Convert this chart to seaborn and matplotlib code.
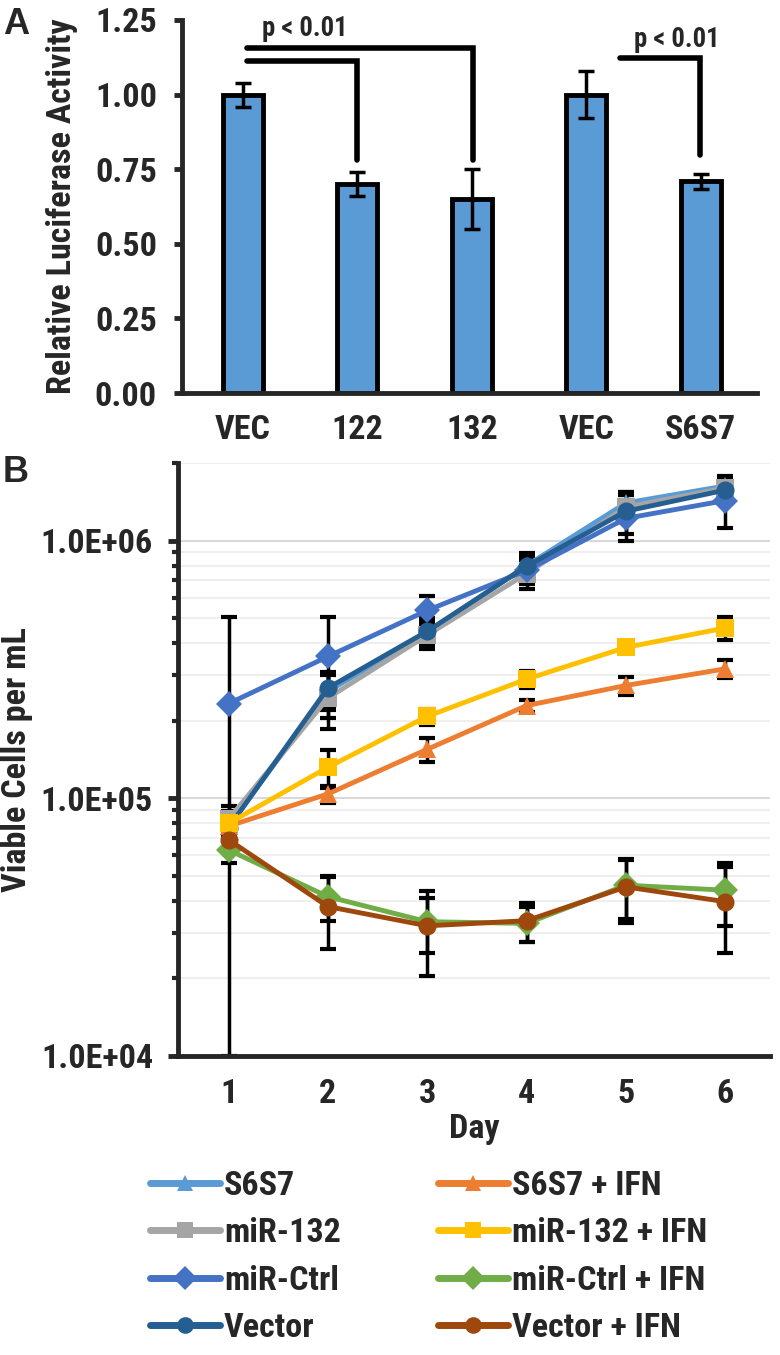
import numpy as np
import pandas as pd
import matplotlib
matplotlib.use("Agg")
import matplotlib.pyplot as plt
from matplotlib.lines import Line2D
from matplotlib.ticker import LogLocator, FuncFormatter, NullFormatter, FixedLocator
from matplotlib import font_manager
import seaborn as sns

# ---------------- Panel A data ----------------
bar_labels = ["VEC", "122", "132", "VEC", "S6S7"]
bar_values = [1.00, 0.70, 0.65, 1.00, 0.71]
bar_errors = [0.04, 0.04, 0.10, 0.08, 0.025]
yticks_a = [0.00, 0.25, 0.50, 0.75, 1.00, 1.25]
sig_text = "p < 0.01"

# ---------------- Panel B data ----------------
days = [1, 2, 3, 4, 5, 6]
series_names = ["S6S7", "miR-132", "miR-Ctrl", "Vector",
                "S6S7 + IFN", "miR-132 + IFN", "miR-Ctrl + IFN", "Vector + IFN"]
s6s7 = [7.8e4, 2.60e5, 4.40e5, 8.00e5, 1.40e6, 1.63e6]
mir132 = [8.3e4, 2.45e5, 4.30e5, 7.45e5, 1.35e6, 1.60e6]
mirctrl = [2.33e5, 3.55e5, 5.36e5, 7.66e5, 1.22e6, 1.43e6]
vector = [7.7e4, 2.68e5, 4.45e5, 7.95e5, 1.30e6, 1.57e6]
s6s7_ifn = [7.8e4, 1.04e5, 1.55e5, 2.29e5, 2.74e5, 3.18e5]
mir132_ifn = [8.0e4, 1.32e5, 2.08e5, 2.90e5, 3.85e5, 4.58e5]
mirctrl_ifn = [6.3e4, 4.15e4, 3.32e4, 3.27e4, 4.60e4, 4.40e4]
vector_ifn = [6.9e4, 3.80e4, 3.20e4, 3.35e4, 4.53e4, 3.97e4]

s6s7_err = [1.0e4, 4.0e4, 5.0e4, 8.0e4, 1.5e5, 1.5e5]
mir132_err = [1.0e4, 6.0e4, 5.0e4, 9.5e4, 1.5e5, 1.5e5]
mirctrl_err = [2.7e5, 1.5e5, 7.6e4, 9.0e4, 2.2e5, 3.1e5]
vector_err = [1.2e4, 4.0e4, 5.5e4, 1.0e5, 2.4e5, 1.6e5]
s6s7_ifn_err = [5.0e3, 8.0e3, 1.7e4, 1.2e4, 2.2e4, 2.5e4]
mir132_ifn_err = [5.0e3, 2.2e4, 1.5e4, 2.3e4, 1.5e4, 4.5e4]
mirctrl_ifn_err = [7.0e3, 8.0e3, 8.0e3, 5.0e3, 1.2e4, 1.2e4]
vector_ifn_err = [6.0e3, 1.2e4, 1.15e4, 5.8e3, 1.25e4, 1.45e4]

ytick_b = [1e4, 1e5, 1e6]

colors = ["#5B9BD5", "#A5A5A5", "#4472C4", "#255E91",
          "#ED7D31", "#FFC000", "#70AD47", "#9E480E"]
markers = ["^", "s", "D", "o", "^", "s", "D", "o"]

sns.set_style("ticks")

# pick a narrow bold sans-serif (the reference uses an Arial-Narrow-like face)
bold_faces = {f.name for f in font_manager.fontManager.ttflist
              if (isinstance(f.weight, int) and f.weight >= 700) or f.weight == "bold"}
prefs = ["Liberation Sans Narrow", "Arial Narrow", "Archivo Narrow", "Roboto Condensed",
         "PT Sans Narrow", "Fira Sans Condensed", "IBM Plex Sans Condensed",
         "Encode Sans Condensed", "Liberation Sans"]
narrow = next((p for p in prefs if p in bold_faces), "Liberation Sans")
plt.rcParams["font.family"] = [narrow, "DejaVu Sans"]
plt.rcParams["font.weight"] = "bold"
plt.rcParams["axes.labelweight"] = "bold"

W, H = 780, 1355
fig = plt.figure(figsize=(W / 100, H / 100), dpi=100)
renderer = fig.canvas.get_renderer()

def text_width(s, size):
    t = fig.text(0, 0, s, fontsize=size, fontweight="bold")
    w = t.get_window_extent(renderer).width
    t.remove()
    return w

# font sizes chosen so text widths match the reference
FS = 10 * 112 / text_width("1.0E+06", 10)
FS_P = 10 * 86 / text_width(sig_text, 10)
fs_px = FS * 100 / 72

def ax_rect(x0, y0, x1, y1):
    return [x0 / W, 1 - y1 / H, (x1 - x0) / W, (y1 - y0) / H]

# ================= Panel A =================
axA = fig.add_axes(ax_rect(182, 20, 757, 393))
pos = list(range(len(bar_values)))
sns.barplot(x=pos, y=bar_values, color="#5B9BD5", saturation=1, width=0.35,
            edgecolor="black", linewidth=3.5, ax=axA, zorder=2)
axA.errorbar(pos, bar_values, yerr=bar_errors, fmt="none", ecolor="black",
             elinewidth=2.5, capsize=6, capthick=2.5, zorder=3)
axA.set_xlim(-0.53, 4.49)
axA.set_ylim(0, 1.25)
axA.set_yticks(yticks_a)
axA.set_yticklabels([f"{v:.2f}" for v in yticks_a])
axA.set_xticks(pos)
axA.set_xticklabels(bar_labels)
axA.tick_params(axis="y", labelsize=FS, width=3.5, length=6, pad=12)
axA.tick_params(axis="x", labelsize=FS, length=0, pad=15)
for s in ["top", "right"]:
    axA.spines[s].set_visible(False)
for s in ["left", "bottom"]:
    axA.spines[s].set_linewidth(3.5)
axA.set_xlabel("")
axA.set_ylabel("Relative Luciferase Activity", fontsize=FS)
axA.yaxis.set_label_coords(-0.181, 0.5)

# significance brackets
br_lw = 4
axA.plot([0.035, 1.0, 1.0], [1.112, 1.112, 0.781], color="black", lw=br_lw,
         solid_joinstyle="miter", clip_on=False, zorder=4)
axA.plot([0.035, 2.01, 2.01], [1.157, 1.157, 0.78], color="black", lw=br_lw,
         solid_joinstyle="miter", clip_on=False, zorder=4)
axA.plot([3.29, 3.99, 3.99], [1.121, 1.121, 0.798], color="black", lw=br_lw,
         solid_joinstyle="miter", clip_on=False, zorder=4)
axA.text(0.54, 1.22, sig_text, ha="center", va="center", fontsize=FS_P, fontweight="bold")
axA.text(3.79, 1.185, sig_text, ha="center", va="center", fontsize=FS_P, fontweight="bold")

# ================= Panel B =================
axB = fig.add_axes(ax_rect(178, 463, 770, 1056))
series_vals = [s6s7, mir132, mirctrl, vector, s6s7_ifn, mir132_ifn, mirctrl_ifn, vector_ifn]
series_errs = [s6s7_err, mir132_err, mirctrl_err, vector_err,
               s6s7_ifn_err, mir132_ifn_err, mirctrl_ifn_err, vector_ifn_err]

ymin, ymax = 1e4, 2e6
for vals, errs in zip(series_vals, series_errs):
    v = np.array(vals)
    e = np.array(errs)
    lower = np.minimum(e, v - ymin * 1.0001)
    axB.errorbar(days, v, yerr=[lower, e], fmt="none", ecolor="black",
                 elinewidth=2.5, capsize=6, capthick=3, zorder=2)

df = pd.DataFrame({
    "Day": np.tile(days, len(series_names)),
    "Cells": np.concatenate([np.array(v) for v in series_vals]),
    "Series": np.repeat(series_names, len(days)),
})
pal = dict(zip(series_names, colors))
mk = dict(zip(series_names, markers))
sns.lineplot(data=df, x="Day", y="Cells", hue="Series", style="Series",
             hue_order=series_names, style_order=series_names,
             palette=pal, markers=mk, dashes=False, errorbar=None,
             linewidth=3.5, markersize=13, markeredgewidth=0,
             legend=False, ax=axB, zorder=3)

axB.set_yscale("log")
axB.set_ylim(ymin, ymax)
axB.set_xlim(0.49, 6.45)
axB.set_xticks(days)
axB.set_xticklabels([str(d) for d in days])
axB.yaxis.set_major_locator(FixedLocator(ytick_b))
axB.yaxis.set_major_formatter(FuncFormatter(lambda v, p: f"{v:.1E}"))
axB.yaxis.set_minor_locator(LogLocator(base=10, subs=range(2, 10)))
axB.yaxis.set_minor_formatter(NullFormatter())
axB.grid(True, axis="y", which="major", color="#D9D9D9", lw=1.5, zorder=0)
axB.grid(True, axis="y", which="minor", color="#EFEFEF", lw=1.5, zorder=0)
axB.set_axisbelow(True)
axB.tick_params(axis="y", which="major", labelsize=FS, width=3.5, length=7, pad=11)
axB.tick_params(axis="y", which="minor", width=3, length=4)
axB.tick_params(axis="x", labelsize=FS, length=0, pad=16)
for s in ["top", "right"]:
    axB.spines[s].set_visible(False)
for s in ["left", "bottom"]:
    axB.spines[s].set_linewidth(3.5)
axB.set_xlabel("Day", fontsize=FS)
axB.xaxis.set_label_coords(0.5, -0.096)
axB.set_ylabel("Viable Cells per mL", fontsize=FS)
axB.yaxis.set_label_coords(-0.245, 0.5)

# panel letters
fig.text(3 / W, 1 - 25 / H, "A", fontsize=26, fontweight="bold", ha="left", va="center",
         family=["Liberation Sans", "DejaVu Sans"])
fig.text(3 / W, 1 - 473 / H, "B", fontsize=26, fontweight="bold", ha="left", va="center",
         family=["Liberation Sans", "DejaVu Sans"])

# legend
handles = [Line2D([0], [0], color=c, marker=m, lw=5, markersize=12, markeredgewidth=0)
           for c, m in zip(colors, markers)]
fig.legend(handles, series_names, loc="upper left",
           bbox_to_anchor=(150 / W, 1 - 1170 / H), ncol=2, frameon=False,
           borderaxespad=0, borderpad=0, handlelength=70 / fs_px, handletextpad=4 / fs_px,
           columnspacing=97 / fs_px, labelspacing=0.45, fontsize=FS)

fig.savefig("out.png", dpi=100)
